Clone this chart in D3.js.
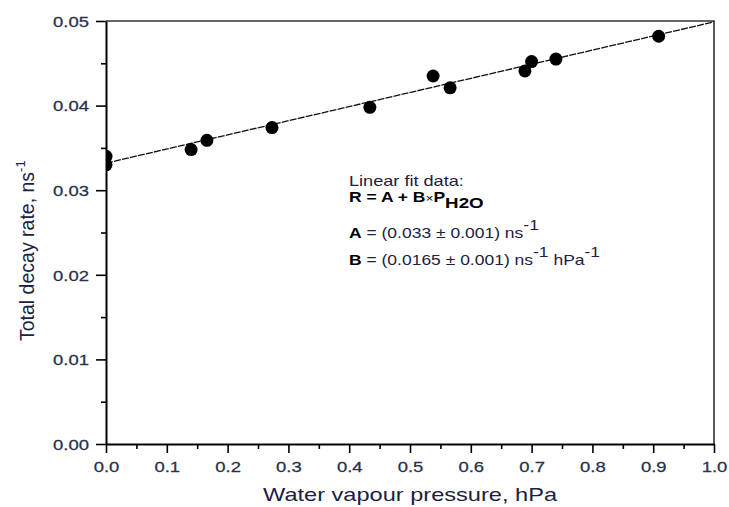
<!DOCTYPE html>
<html>
<head>
<meta charset="utf-8">
<script src="https://cdn.jsdelivr.net/npm/d3@7"></script>
<style>
  html, body { margin: 0; padding: 0; background: #fff; }
  svg { display: block; }
</style>
</head>
<body>
<svg id="chart" width="729" height="507"></svg>
<script>
// ---- data ----
const pressure = [0.0, 0.0, 0.140, 0.166, 0.273, 0.434, 0.538, 0.566, 0.689, 0.700, 0.740, 0.909];
const decayRate = [0.0340, 0.0330, 0.0348, 0.0359, 0.0374, 0.0398, 0.0435, 0.0421, 0.0441, 0.0452, 0.0455, 0.0482];
const fitX = [0.0, 1.0];
const fitY = [0.0332, 0.0499];
const xTicks = [0.0, 0.1, 0.2, 0.3, 0.4, 0.5, 0.6, 0.7, 0.8, 0.9, 1.0];
const yTicks = [0.00, 0.01, 0.02, 0.03, 0.04, 0.05];
const xMinor = [0.05, 0.15, 0.25, 0.35, 0.45, 0.55, 0.65, 0.75, 0.85, 0.95];
const yMinor = [0.005, 0.015, 0.025, 0.035, 0.045];
const xTitle = "Water vapour pressure, hPa";
const yTitle = "Total decay rate, ns";

// ---- layout ----
const L = 106, R = 714, T = 21, B = 444;
const svg = d3.select("#chart");
const x = d3.scaleLinear().domain([0, 1]).range([L, R]);
const y = d3.scaleLinear().domain([0, 0.05]).range([B, T]);
const tickColor = "#27314d";
const titleColor = "#1b2140";
const font = "'Liberation Sans', Arial, sans-serif";

svg.append("defs").append("clipPath").attr("id", "plotclip")
  .append("rect").attr("x", L).attr("y", T).attr("width", R - L).attr("height", B - T);

// frame (top/right)
svg.append("path")
  .attr("d", `M${L},${T}H${R}V${B}`)
  .attr("fill", "none").attr("stroke", "#333").attr("stroke-width", 1.6);

// fit line
const line = d3.line().x((d, i) => x(fitX[i])).y(d => y(d));
svg.append("path")
  .datum(fitY)
  .attr("d", line)
  .attr("fill", "none").attr("stroke", "#111").attr("stroke-width", 1.3)
  .attr("stroke-dasharray", "7,1.2")
  .attr("clip-path", "url(#plotclip)");

// points
svg.append("g").attr("clip-path", "url(#plotclip)")
  .selectAll("circle").data(pressure).join("circle")
  .attr("cx", d => x(d))
  .attr("cy", (d, i) => y(decayRate[i]))
  .attr("r", 6.5)
  .attr("fill", "#000");

// x axis
const xAxis = svg.append("g").attr("transform", `translate(0,${B})`)
  .call(d3.axisBottom(x).tickValues(xTicks).tickFormat(d3.format(".1f")).tickSize(9).tickSizeOuter(0));
svg.append("g").attr("transform", `translate(0,${B})`)
  .call(d3.axisBottom(x).tickValues(xMinor).tickFormat("").tickSize(5).tickSizeOuter(0))
  .call(g => g.select(".domain").remove());

// y axis
const yAxis = svg.append("g").attr("transform", `translate(${L},0)`)
  .call(d3.axisLeft(y).tickValues(yTicks).tickFormat(d3.format(".2f")).tickSize(10).tickSizeOuter(0));
svg.append("g").attr("transform", `translate(${L},0)`)
  .call(d3.axisLeft(y).tickValues(yMinor).tickFormat("").tickSize(5).tickSizeOuter(0))
  .call(g => g.select(".domain").remove());

svg.selectAll(".tick line").attr("stroke", "#000").attr("stroke-width", 1.6);
svg.selectAll(".domain").attr("stroke", "#000").attr("stroke-width", 2);

xAxis.selectAll(".tick text")
  .attr("y", 0).attr("dy", 0).attr("x", 0)
  .attr("transform", "translate(0,28) scale(1.23,1)")
  .attr("font-family", font).attr("font-size", 15).attr("fill", tickColor)
  .attr("stroke", tickColor).attr("stroke-width", 0.25);
yAxis.selectAll(".tick text")
  .attr("x", 0).attr("dy", "0.35em")
  .attr("transform", "translate(-17,0) scale(1.23,1)")
  .attr("font-family", font).attr("font-size", 15).attr("fill", tickColor)
  .attr("stroke", tickColor).attr("stroke-width", 0.25);

// axis titles
svg.append("text")
  .attr("x", (L + R) / 2).attr("y", 501)
  .attr("text-anchor", "middle")
  .attr("font-family", font).attr("font-size", 19).attr("fill", titleColor)
  .attr("textLength", 294).attr("lengthAdjust", "spacingAndGlyphs")
  .text(xTitle);

const yt = svg.append("text")
  .attr("transform", "translate(34,341) rotate(-90)")
  .attr("text-anchor", "start")
  .attr("font-family", font).attr("font-size", 19.5).attr("fill", titleColor);
yt.append("tspan").text(yTitle);
yt.append("tspan").attr("dy", -9).attr("font-size", 13).text("-1");

// annotation
const ann = svg.append("g").attr("transform", "translate(349,0) scale(1.25,1)")
  .attr("font-family", font).attr("fill", titleColor);
ann.append("text").attr("x", 0).attr("y", 186).attr("font-size", 14.5).text("Linear fit data:");
const r1 = ann.append("text").attr("x", 0).attr("y", 202).attr("font-size", 14).attr("font-weight", "bold").attr("fill", "#000");
r1.append("tspan").text("R = A + B");
r1.append("tspan").attr("font-weight", "normal").attr("font-size", 11).text("×");
r1.append("tspan").text("P");
r1.append("tspan").attr("dy", 6).attr("font-size", 15).text("H2O");

const a1 = ann.append("text").attr("x", 0).attr("y", 238).attr("font-size", 14).attr("fill", "#000");
a1.append("tspan").attr("font-weight", "bold").text("A");
a1.append("tspan").attr("fill", titleColor).text(" = (0.033 ± 0.001) ns");
a1.append("tspan").attr("dy", -8).attr("fill", titleColor).text("-1");

const b1 = ann.append("text").attr("x", 0).attr("y", 265).attr("font-size", 14).attr("fill", "#000");
b1.append("tspan").attr("font-weight", "bold").text("B");
b1.append("tspan").attr("fill", titleColor).text(" = (0.0165 ± 0.001) ns");
b1.append("tspan").attr("dy", -8).attr("fill", titleColor).text("-1");
b1.append("tspan").attr("dy", 8).attr("fill", titleColor).text(" hPa");
b1.append("tspan").attr("dy", -8).attr("fill", titleColor).text("-1");
</script>
</body>
</html>
